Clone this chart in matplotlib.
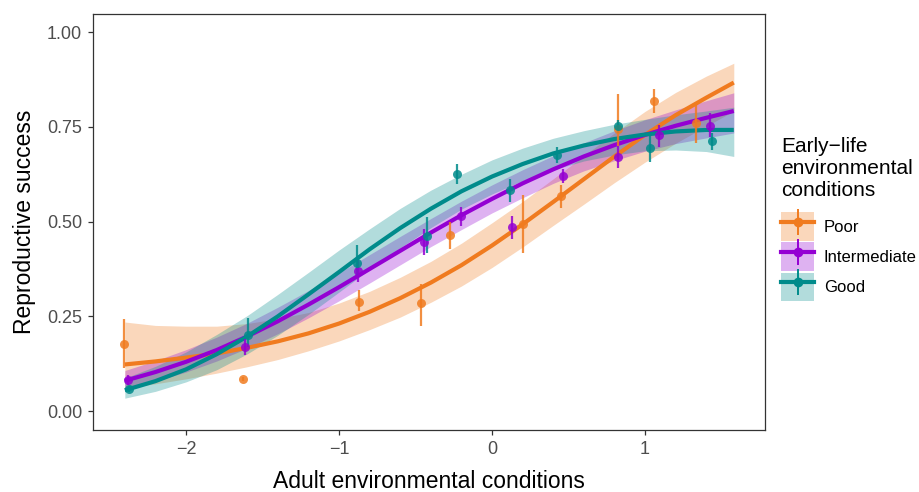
import matplotlib
matplotlib.use("Agg")
import matplotlib.pyplot as plt
from matplotlib.lines import Line2D
from matplotlib.patches import Patch

plt.rcParams['font.family'] = ['Liberation Sans', 'DejaVu Sans']

# ---------------- data ----------------
groups = ["Poor", "Intermediate", "Good"]
colors = {"Poor": "#F07B1F", "Intermediate": "#9400D3", "Good": "#008B8B"}

# binned observations (mean and interval)
poor_x = [-2.405, -1.63, -0.871, -0.464, -0.275, 0.205, 0.453, 0.821, 1.061, 1.335]
poor_y = [0.177, 0.085, 0.288, 0.284, 0.464, 0.494, 0.567, 0.744, 0.818, 0.760]
poor_lo = [0.114, 0.080, 0.263, 0.225, 0.427, 0.416, 0.535, 0.700, 0.786, 0.708]
poor_hi = [0.242, 0.090, 0.319, 0.335, 0.500, 0.570, 0.597, 0.838, 0.850, 0.812]

inter_x = [-2.381, -1.614, -0.876, -0.447, -0.203, 0.131, 0.462, 0.821, 1.089, 1.427]
inter_y = [0.082, 0.170, 0.370, 0.447, 0.515, 0.485, 0.621, 0.670, 0.729, 0.752]
inter_lo = [0.070, 0.148, 0.341, 0.412, 0.488, 0.453, 0.602, 0.641, 0.698, 0.723]
inter_hi = [0.095, 0.190, 0.400, 0.480, 0.539, 0.516, 0.639, 0.700, 0.755, 0.786]

good_x = [-2.370, -1.595, -0.880, -0.427, -0.231, 0.118, 0.427, 0.821, 1.033, 1.438]
good_y = [0.058, 0.200, 0.392, 0.463, 0.625, 0.583, 0.675, 0.752, 0.693, 0.714]
good_lo = [0.050, 0.170, 0.360, 0.416, 0.598, 0.553, 0.654, 0.735, 0.658, 0.689]
good_hi = [0.066, 0.245, 0.438, 0.511, 0.652, 0.612, 0.696, 0.767, 0.729, 0.734]

# fitted curves and confidence ribbons
fit_x = [-2.4, -2.2, -2.0, -1.8, -1.6, -1.4, -1.2, -1.0, -0.8, -0.6, -0.4,
         -0.2, 0.0, 0.2, 0.4, 0.6, 0.8, 1.0, 1.2, 1.4, 1.58]

poor_fit = [0.123, 0.131, 0.141, 0.152, 0.167, 0.184, 0.205, 0.231, 0.262, 0.298, 0.339,
            0.385, 0.437, 0.493, 0.552, 0.612, 0.672, 0.729, 0.781, 0.827, 0.867]
poor_fit_lo = [0.061, 0.072, 0.085, 0.100, 0.117, 0.136, 0.159, 0.185, 0.215, 0.248, 0.287,
               0.330, 0.379, 0.433, 0.490, 0.546, 0.603, 0.657, 0.707, 0.752, 0.792]
poor_fit_hi = [0.235, 0.226, 0.224, 0.224, 0.231, 0.244, 0.260, 0.285, 0.316, 0.353, 0.395,
               0.443, 0.497, 0.553, 0.613, 0.674, 0.734, 0.791, 0.841, 0.884, 0.918]

inter_fit = [0.080, 0.103, 0.130, 0.161, 0.197, 0.237, 0.281, 0.327, 0.375, 0.423, 0.471,
             0.517, 0.560, 0.601, 0.638, 0.672, 0.702, 0.729, 0.753, 0.774, 0.792]
inter_fit_lo = [0.060, 0.079, 0.103, 0.132, 0.166, 0.204, 0.246, 0.291, 0.338, 0.386, 0.434,
                0.479, 0.523, 0.563, 0.601, 0.634, 0.661, 0.686, 0.706, 0.721, 0.734]
inter_fit_hi = [0.107, 0.133, 0.162, 0.195, 0.232, 0.274, 0.318, 0.365, 0.413, 0.461, 0.508,
                0.554, 0.597, 0.637, 0.674, 0.708, 0.740, 0.769, 0.795, 0.819, 0.840]

good_fit = [0.055, 0.079, 0.110, 0.150, 0.197, 0.250, 0.308, 0.367, 0.427, 0.483, 0.534,
            0.580, 0.619, 0.652, 0.680, 0.701, 0.718, 0.730, 0.738, 0.742, 0.742]
good_fit_lo = [0.034, 0.052, 0.077, 0.109, 0.151, 0.200, 0.255, 0.314, 0.374, 0.431, 0.484,
               0.533, 0.573, 0.608, 0.637, 0.660, 0.676, 0.687, 0.689, 0.685, 0.672]
good_fit_hi = [0.087, 0.118, 0.156, 0.202, 0.252, 0.308, 0.366, 0.425, 0.481, 0.535, 0.583,
               0.625, 0.663, 0.694, 0.720, 0.740, 0.757, 0.770, 0.782, 0.792, 0.802]

x_ticks = [-2, -1, 0, 1]
y_ticks = [0.00, 0.25, 0.50, 0.75, 1.00]
y_ticklabels = ["0.00", "0.25", "0.50", "0.75", "1.00"]

obs = {
    "Poor": (poor_x, poor_y, poor_lo, poor_hi),
    "Intermediate": (inter_x, inter_y, inter_lo, inter_hi),
    "Good": (good_x, good_y, good_lo, good_hi),
}
fits = {
    "Poor": (poor_fit, poor_fit_lo, poor_fit_hi),
    "Intermediate": (inter_fit, inter_fit_lo, inter_fit_hi),
    "Good": (good_fit, good_fit_lo, good_fit_hi),
}

# ---------------- figure ----------------
W, H = 919, 492
fig = plt.figure(figsize=(W / 100, H / 100), dpi=100)
ax = fig.add_axes([93 / W, 1 - 430 / H, (765 - 93) / W, (430 - 14) / H])

for g in groups:
    f, lo, hi = fits[g]
    ax.fill_between(fit_x, lo, hi, color=colors[g], alpha=0.3, linewidth=0, zorder=1)
for g in groups:
    f, lo, hi = fits[g]
    ax.plot(fit_x, f, color=colors[g], lw=3.0, solid_capstyle='butt', zorder=3)
for g in groups:
    x, y, lo, hi = obs[g]
    ax.vlines(x, lo, hi, color=colors[g], lw=1.6, alpha=0.85, zorder=4)
    ax.scatter(x, y, s=42, color=colors[g], alpha=0.85, linewidths=0, zorder=5)

ax.set_xlim(-2.608, 1.784)
ax.set_ylim(-0.050, 1.048)
ax.set_xticks(x_ticks)
ax.set_yticks(y_ticks)
ax.set_yticklabels(y_ticklabels)
for s in ax.spines.values():
    s.set_color("#333333")
    s.set_linewidth(0.9)
ax.tick_params(axis='both', direction='out', length=3.8, width=0.9, color="#333333",
               labelcolor="#4D4D4D", labelsize=13, pad=4)
ax.set_xlabel("Adult environmental conditions", fontsize=16.5, labelpad=8.5)
ax.set_ylabel("Reproductive success", fontsize=16.5, labelpad=8)

# legend
fig.text(781 / W, 1 - 137 / H, "Early\u2212life\nenvironmental\nconditions",
         fontsize=15, ha='left', va='top', linespacing=1.2, color='black')
handles = []
for g in groups:
    c = colors[g]
    handles.append((
        Patch(facecolor=c, alpha=0.3, edgecolor='none'),
        Line2D([], [], color=c, lw=3.0),
        Line2D([], [], color=c, marker='|', markersize=19, markeredgewidth=1.4, linestyle='none'),
        Line2D([], [], color=c, marker='o', markersize=7, markeredgewidth=0, linestyle='none'),
    ))
leg = fig.legend(handles, groups, loc='upper left', bbox_to_anchor=(773 / W, 1 - 204 / H),
                 frameon=False, borderpad=0, fontsize=12,
                 handlelength=1.95, handleheight=2.25,
                 handletextpad=0.6, labelspacing=0.1)

fig.savefig("out.png", dpi=100)
